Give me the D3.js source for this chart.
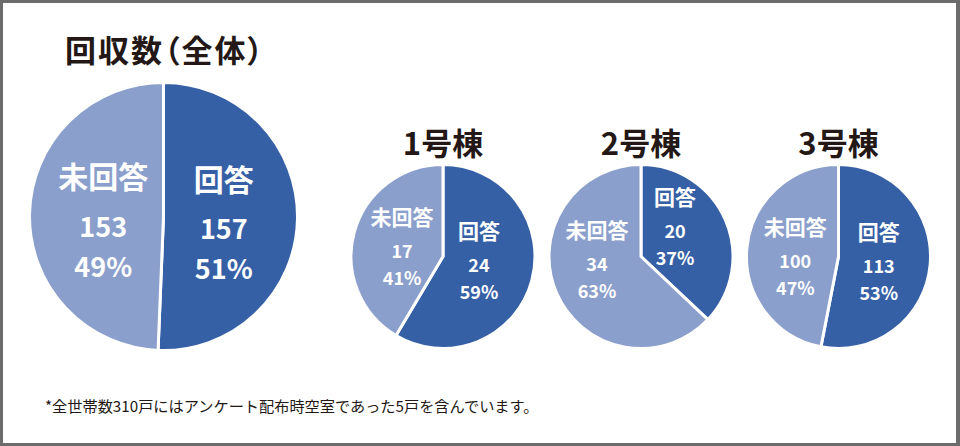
<!DOCTYPE html>
<html><head><meta charset="utf-8">
<script src="https://cdn.jsdelivr.net/npm/d3@7"></script>
<style>
html,body{margin:0;padding:0;background:#fff;}
svg{display:block;}
text{font-family:"Noto Sans CJK JP","Noto Sans",sans-serif;}
.maintitle{font-feature-settings:"palt";letter-spacing:2px;}
</style></head>
<body>
<svg id="chart" width="960" height="446"></svg>
<script>
// ---- data ----
const chartTitles = ["回収数（全体）", "1号棟", "2号棟", "3号棟"];
const categories = ["回答", "未回答"];
const answered = [157, 24, 20, 113];
const unanswered = [153, 17, 34, 100];
const percentAnswered = ["51%", "59%", "37%", "53%"];
const percentUnanswered = ["49%", "41%", "63%", "47%"];
const footnote = "*全世帯数310戸にはアンケート配布時空室であった5戸を含んでいます。";

// ---- layout ----
const W = 960, H = 446;
const colors = d3.scaleOrdinal().domain(categories).range(["#3660a6", "#8b9fcc"]);
// nudge: [[dx,dy] for 回答, [dx,dy] for 未回答]
const layout = [
  {cx: 163.5, cy: 216.5, r: 134, titleX: 65, titleAnchor: "start", titleY: 48, titleSize: 31, catSize: 30, numSize: 27, lines: [-40, 10, 50], nudge: [[0, 0], [0, 0]], cls: "maintitle"},
  {cx: 443, cy: 256.5, r: 92, titleX: 443, titleAnchor: "middle", titleY: 141, titleSize: 31, catSize: 21, numSize: 18, lines: [-30, 4, 31], nudge: [[-4, -7], [-1, 0]], cls: "subtitle"},
  {cx: 641, cy: 256.5, r: 92, titleX: 641, titleAnchor: "middle", titleY: 141, titleSize: 31, catSize: 21, numSize: 18, lines: [-30, 4, 31], nudge: [[-4, -14], [-6, -14]], cls: "subtitle"},
  {cx: 838.5, cy: 256.5, r: 92, titleX: 838.5, titleAnchor: "middle", titleY: 141, titleSize: 31, catSize: 21, numSize: 18, lines: [-30, 4, 31], nudge: [[-1, 1], [-2, 3]], cls: "subtitle"}
];

const svg = d3.select("#chart");
svg.append("rect").attr("width", W).attr("height", H).attr("fill", "#6b6b6b");
svg.append("rect").attr("x", 3).attr("y", 3).attr("width", W - 7).attr("height", H - 6).attr("fill", "#fff");

const pie = d3.pie().sort(null).value(d => d.value);

chartTitles.forEach((title, i) => {
  const L = layout[i];
  const g = svg.append("g").attr("transform", `translate(${L.cx},${L.cy})`);
  const data = [
    {cat: categories[0], value: answered[i], pct: percentAnswered[i]},
    {cat: categories[1], value: unanswered[i], pct: percentUnanswered[i]}
  ];
  const arcs = pie(data);
  const arc = d3.arc().innerRadius(0).outerRadius(L.r);
  const labelArc = d3.arc().innerRadius(L.r * 0.45).outerRadius(L.r * 0.45);

  g.selectAll("path.slice").data(arcs).join("path")
    .attr("class", "slice")
    .attr("d", arc)
    .attr("fill", d => colors(d.data.cat))
    .attr("stroke", "#fff")
    .attr("stroke-width", 3)
    .attr("stroke-linejoin", "round");

  const lbl = g.selectAll("g.lbl").data(arcs).join("g")
    .attr("class", "lbl")
    .attr("transform", (d, j) => {
      const c = labelArc.centroid(d);
      return `translate(${c[0] + L.nudge[j][0]},${c[1] + L.nudge[j][1]})`;
    });
  lbl.each(function(d) {
    const s = d3.select(this);
    const texts = [d.data.cat, String(d.data.value), d.data.pct];
    texts.forEach((t, k) => {
      s.append("text")
        .attr("x", 0).attr("y", L.lines[k])
        .attr("text-anchor", "middle")
        .attr("dominant-baseline", "central")
        .attr("fill", "#fff")
        .attr("font-weight", "bold")
        .attr("font-size", k === 0 ? L.catSize : L.numSize)
        .text(t);
    });
  });

  svg.append("text")
    .attr("class", L.cls)
    .attr("x", L.titleX).attr("y", L.titleY)
    .attr("text-anchor", L.titleAnchor)
    .attr("dominant-baseline", "central")
    .attr("fill", "#231815")
    .attr("font-weight", "bold")
    .attr("font-size", L.titleSize)
    .text(title);
});

svg.append("text")
  .attr("x", 45).attr("y", 405)
  .attr("dominant-baseline", "central")
  .attr("fill", "#231815")
  .attr("font-size", 15.2)
  .text(footnote);
</script>
</body></html>
